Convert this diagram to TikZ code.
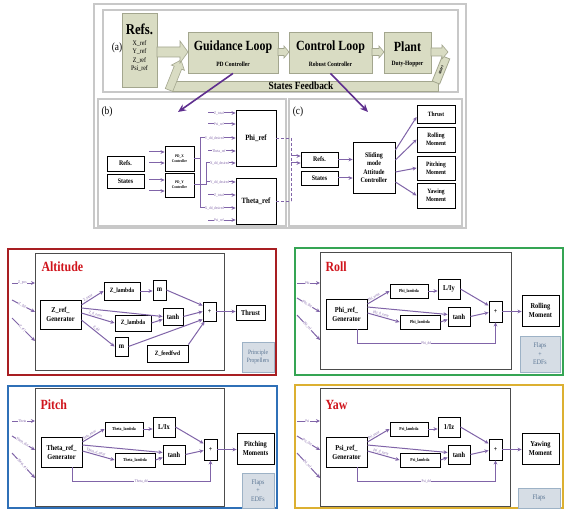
\documentclass[tikz,border=0pt]{standalone}
\usepackage{fontspec}
\setmainfont{Liberation Serif}[FakeStretch=0.85]
\usetikzlibrary{arrows.meta}
\definecolor{beige}{HTML}{D9DCC3}
\definecolor{beigeb}{HTML}{A3A68E}
\definecolor{pur}{HTML}{8064A8}
\definecolor{dpur}{HTML}{5E2E8E}
\definecolor{frc}{HTML}{C8C8C8}
\definecolor{tred}{HTML}{D0141C}
\definecolor{redf}{HTML}{A81E22}
\definecolor{greenf}{HTML}{35A554}
\definecolor{bluef}{HTML}{2F70B7}
\definecolor{goldf}{HTML}{DCB031}
\definecolor{flapf}{HTML}{D6DDE5}
\definecolor{flapd}{HTML}{9DB2C6}
\definecolor{flapt}{HTML}{5A7593}
\newcommand\myfs[1]{\fontsize{#1pt}{1.2\dimexpr #1pt\relax}\selectfont}
\tikzset{
 box/.style={draw=black, line width=0.9pt, fill=white, align=center, inner sep=0pt},
 bf/.style={font=\bfseries\myfs{#1}},
 tbox/.style={draw=beigeb, fill=beige, line width=0.8pt, align=center, inner sep=0pt},
 parr/.style={draw=pur, line width=1pt, -{Stealth[length=4pt,width=3.8pt]}},
 pline/.style={draw=pur, line width=1pt},
 bigarr/.style={draw=dpur, line width=1.6pt, -{Stealth[length=8pt,width=7pt]}},
 lab/.style={text=pur, font=\myfs{4}, inner sep=0.4pt},
 ttl/.style={anchor=west, text=tred, font=\bfseries\myfs{14}},
 inframe/.style={draw=black!70, line width=0.8pt, fill=white},
 flaps/.style={draw=flapd, fill=flapf, line width=1pt, text=flapt, font=\myfs{7}, align=center, inner sep=0pt},
}
\newcommand\mybox[7][]{\node[box,minimum width={(#5-#3)*1pt},minimum height={(#6-#4)*1pt},#1] (#2) at ({(#3+#5)/2},{(#4+#6)/2}) {#7};}
\newcommand\fatarr[6]{\draw[draw=beigeb, fill=beige, line width=0.6pt] (#1,#3-#4) -- (#2-#6,#3-#4) -- (#2-#6,#3-#5) -- (#2,#3) -- (#2-#6,#3+#5) -- (#2-#6,#3+#4) -- (#1,#3+#4) -- cycle;}
% attitude panel content: #1 dx, #2 dy, #3 var, #4 gain, #5 output, #6 prefix, #7 title
\newcommand\attpanel[7]{%
\begin{scope}[shift={(#1,#2)}]
\node[ttl] (#6ttl) at (37,27) {#7};
\coordinate (#6a1) at (12,43); \coordinate (#6b1) at (35,43);
\coordinate (#6a2) at (12,58); \coordinate (#6b2) at (35,72);
\coordinate (#6a3) at (12,75); \coordinate (#6b3) at (35,100);
\draw[parr] (#6a1) -- node[lab,fill=white,pos=0.45]{#3} (#6b1);
\draw[parr] (#6a2) -- node[lab,fill=white,sloped,pos=0.45]{#3\_dot} (#6b2);
\draw[parr] (#6a3) -- node[lab,fill=white,sloped,pos=0.45]{#3\_ref} (#6b3);
\mybox[bf=7.5]{#6gen}{41}{59}{82}{89}{#3\_ref\_\\Generator}
\mybox[bf=4.5]{#6lam1}{105}{44}{143}{58}{#3\_lambda}
\mybox[bf=7.5]{#6gain}{153}{39}{175}{59}{#4}
\mybox[bf=7.5]{#6tanh}{163}{67}{185}{86}{tanh}
\mybox[bf=4.5]{#6lam2}{115}{75}{155}{89}{#3\_lambda}
\mybox[bf=7]{#6plus}{204}{61}{217}{82}{+}
\mybox[bf=7.5]{#6out}{237}{55}{274}{86}{#5}
\draw[parr] ([yshift=10pt]#6gen.east) -- node[lab,above,sloped,pos=0.35]{#3\_error} (#6lam1.west);
\draw[parr] (#6lam1.east) -- (#6lam1.east -| #6gain.west);
\draw[parr] (#6gain.east) -- ([yshift=6pt]#6plus.west);
\draw[parr] ([yshift=7pt]#6gen.east) -- ([yshift=2pt]#6tanh.west);
\draw[parr] ([yshift=1pt]#6gen.east) -- node[lab,above,sloped,pos=0.4]{#3\_d\_error} (#6lam2.west);
\draw[parr] (#6lam2.east) -- ([yshift=-3pt]#6tanh.west);
\draw[parr] (#6tanh.east) -- ([yshift=-1pt]#6plus.west);
\draw[parr] (#6plus.east) -- (#6plus.east -| #6out.west);
\draw[parr] ([xshift=10.5pt]#6gen.south) -- ++(0,14) -| node[lab,fill=white,pos=0.25]{#3\_dd} (#6plus.south);
\end{scope}}
\begin{document}
\begin{tikzpicture}[x=1pt,y=-1pt]
\useasboundingbox (0,0) rectangle (568,516);
\fill[white] (0,0) rectangle (568,516);
% ---------- top frames
\draw[frc, line width=1.4pt] (94,4) rectangle (466,228);
\draw[frc, line width=1.2pt, fill=white] (103,10) rectangle (458,92);
\draw[frc, line width=1.2pt] (98,99) rectangle (286,226);
\draw[frc, line width=1.2pt] (289,99) rectangle (462,226);
% ---------- (a)
\node[font=\myfs{11}] (la) at (117,48) {(a)};
\node[tbox, minimum width=266pt, minimum height=10pt] (fb) at (305,86) {};
\draw[draw=beigeb, fill=beige, line width=0.6pt] (165.3,88.5) -- (174.2,66.2) -- (171.4,65.1) -- (181,60) -- (184.4,70.3) -- (181.6,69.2) -- (172.7,91.5) -- cycle;
\node[tbox, rotate=68, minimum width=27pt, minimum height=8pt, font=\bfseries\itshape\myfs{4.5}] (stt) at (441,70) {states};
\node[font=\bfseries\myfs{11}] (fbt) at (301,86) {States Feedback};
\node[tbox, minimum width=35pt, minimum height=74pt] (refsa) at (139.5,50) {};
\node[font=\bfseries\myfs{15}] (refsat) at (139.5,29) {Refs.};
\node[font=\myfs{7}, align=center] (refsal) at (139.5,56) {X\_ref\\Y\_ref\\Z\_ref\\Psi\_ref};
\node[tbox, minimum width=90pt, minimum height=41pt] (guid) at (233,52.5) {};
\node[font=\bfseries\myfs{14}] (guidt) at (233,47) {Guidance Loop};
\node[font=\bfseries\myfs{6.5}] (guids) at (233,64) {PD Controller};
\node[tbox, minimum width=83pt, minimum height=41pt] (ctrl) at (330.5,52.5) {};
\node[font=\bfseries\myfs{14}] (ctrlt) at (330.5,47) {Control Loop};
\node[font=\bfseries\myfs{6.5}] (ctrls) at (330.5,64) {Robust Controller};
\node[tbox, minimum width=47pt, minimum height=41pt] (plant) at (407.5,52.5) {};
\node[font=\bfseries\myfs{14}] (plantt) at (407.5,47) {Plant};
\node[font=\bfseries\myfs{6.5}] (plants) at (407.5,64) {Duty-Hopper};
\fatarr{157}{188}{52}{5}{11}{8}
\fatarr{278}{289}{52}{3.5}{6}{5}
\fatarr{372}{384}{52}{3.5}{6}{5}
\fatarr{431}{448}{52}{4}{7}{6}
% ---------- (b)
\node[font=\myfs{11}] (lb) at (107,112) {(b)};
\mybox[bf=7]{brefs}{107}{156}{144}{171}{Refs.}
\mybox[bf=7]{bstates}{107}{174}{144}{188}{States}
\mybox[bf=4]{pdx}{165}{146}{194}{171}{PD\_X\\Controller}
\mybox[bf=4]{pdy}{165}{173}{194}{197}{PD\_Y\\Controller}
\mybox[bf=8]{phir}{236}{110}{276}{166}{Phi\_ref}
\mybox[bf=8]{thr}{236}{178}{276}{224}{Theta\_ref}
\foreach \yy in {152,163} \draw[parr] (149,\yy) -- (pdx.west |- 0,\yy);
\foreach \yy in {180,191} \draw[parr] (149,\yy) -- (pdy.west |- 0,\yy);
\draw[pline] (pdx.east) -- ++(6,0) coordinate (v1);
\draw[pline] (v1 |- 0,138) -- (v1 |- 0,208);
\draw[pline] (pdy.east) -- ++(12,0) coordinate (v2);
\draw[pline] (v2 |- 0,163) -- (v2 |- 0,185);
\draw[parr] (208,113) -- node[lab,fill=white,pos=0.4]{Z\_total} (phir.west |- 0,113);
\draw[parr] (208,124) -- node[lab,fill=white,pos=0.4]{Psi\_ref} (phir.west |- 0,124);
\draw[parr] (v1 |- 0,138) -- node[lab,fill=white,pos=0.4]{Y\_dd\_desired} (phir.west |- 0,138);
\draw[parr] (208,151) -- node[lab,fill=white,pos=0.4]{Theta\_ref} (phir.west |- 0,151);
\draw[parr] (v2 |- 0,163) -- node[lab,fill=white,pos=0.45]{X\_dd\_desired} (phir.west |- 0,163);
\draw[parr] (v2 |- 0,182) -- node[lab,fill=white,pos=0.45]{Y\_dd\_desired} (thr.west |- 0,182);
\draw[parr] (208,195) -- node[lab,fill=white,pos=0.4]{Z\_total} (thr.west |- 0,195);
\draw[parr] (v1 |- 0,208) -- node[lab,fill=white,pos=0.4]{X\_dd\_desired} (thr.west |- 0,208);
\draw[parr] (208,220) -- node[lab,fill=white,pos=0.4]{Psi\_ref} (thr.west |- 0,220);
% ---------- (c)
\node[font=\myfs{11}] (lc) at (298,112) {(c)};
\mybox[bf=7]{crefs}{301}{152}{338}{167}{Refs.}
\mybox[bf=7]{cstates}{301}{171}{338}{185}{States}
\mybox[bf=7]{slid}{353}{142}{395}{193}{Sliding\\mode\\Attitude\\Controller}
\mybox[bf=6.5]{cthr}{417}{105}{455}{123}{Thrust}
\mybox[bf=6.5]{croll}{417}{127}{455}{152}{Rolling\\Moment}
\mybox[bf=6.5]{cpitch}{417}{156}{455}{180}{Pitching\\Moment}
\mybox[bf=6.5]{cyaw}{417}{183}{455}{208}{Yawing\\Moment}
\draw[pur, line width=0.9pt, densely dashed] (phir.east) -- ++(15,0) coordinate (d1);
\draw[pur, line width=0.9pt, densely dashed] (thr.east) -- ++(15,0) coordinate (d2);
\draw[pur, line width=0.9pt, densely dashed] (d1) -- (d2);
\draw[parr] (d1 |- 0,156) -- (crefs.west |- 0,156);
\draw[parr] (d1 |- 0,163) -- (crefs.west |- 0,163);
\draw[parr] (crefs.east) -- (crefs.east -| slid.west);
\draw[parr] (cstates.east) -- (cstates.east -| slid.west);
\draw[parr] ([yshift=17.5pt]slid.east) -- ([yshift=-3pt]cthr.west);
\draw[parr] ([yshift=7.5pt]slid.east) -- (croll.west);
\draw[parr] ([yshift=-4.5pt]slid.east) -- (cpitch.west);
\draw[parr] ([yshift=-14.5pt]slid.east) -- (cyaw.west);
% big arrows
\coordinate (bt) at (178,112);
\coordinate (ct) at (368,112);
\draw[bigarr] (guid.south) -- (bt);
\draw[bigarr] (ctrl.south) -- (ct);
% ---------- Altitude
\draw[redf, line width=2.4pt] (8,249) rectangle (276,375);
\draw[inframe] (35,253) rectangle (224,370);
\begin{scope}[shift={(0,240)}]
\node[ttl] (attl) at (38,27) {Altitude};
\coordinate (aa1) at (12,43); \coordinate (ab1) at (35,43);
\coordinate (aa2) at (12,60); \coordinate (ab2) at (35,72);
\coordinate (aa3) at (12,78); \coordinate (ab3) at (35,101);
\draw[parr] (aa1) -- node[lab,fill=white,pos=0.45]{Z\_pos} (ab1);
\draw[parr] (aa2) -- node[lab,fill=white,sloped,pos=0.45]{Z\_dot} (ab2);
\draw[parr] (aa3) -- node[lab,fill=white,sloped,pos=0.45]{Z\_ref} (ab3);
\mybox[bf=7.5]{agen}{40}{60}{81}{89}{Z\_ref\_\\Generator}
\mybox[bf=6.5]{alam1}{104}{42}{140}{60}{Z\_lambda}
\mybox[bf=7.5]{am1}{153}{40}{166}{60}{m}
\mybox[bf=7.5]{atanh}{163}{68}{183}{85}{tanh}
\mybox[bf=6.5]{alam2}{115}{75}{151}{91}{Z\_lambda}
\mybox[bf=7.5]{am2}{115}{97}{128}{116}{m}
\mybox[bf=6.5]{aff}{147}{105}{188}{122}{Z\_feedfwd}
\mybox[bf=7]{aplus}{203}{62}{216}{81}{+}
\mybox[bf=7.5]{athr}{236}{65}{265}{80}{Thrust}
\draw[parr] ([yshift=9.5pt]agen.east) -- node[lab,above,sloped,pos=0.35]{Z\_error} (alam1.west);
\draw[parr] (alam1.east) -- (alam1.east -| am1.west);
\draw[parr] (am1.east) -- ([yshift=6pt]aplus.west);
\draw[parr] ([yshift=6.5pt]agen.east) -- (atanh.west);
\draw[parr] ([yshift=1.5pt]agen.east) -- node[lab,above,sloped,pos=0.4]{Z\_d\_error} (alam2.west);
\draw[parr] (alam2.east) -- ([yshift=-3pt]atanh.west);
\draw[parr] (atanh.east) -- (aplus.west);
\draw[parr] ([yshift=-5.5pt]agen.east) -- node[lab,above,sloped,pos=0.4]{Z\_dd} (am2.west);
\draw[parr] (am2.east) -- ([yshift=2pt]aplus.south west);
\draw[parr] (aff.north east) -- ([xshift=2pt]aplus.south west);
\draw[parr] (aplus.east) -- (aplus.east -| athr.west);
\end{scope}
\node[flaps, font=\myfs{6.5}, minimum width=32pt, minimum height=30pt] (aprop) at (258,357) {Principle\\Propellers};
% ---------- Roll
\draw[greenf, line width=2.4pt] (295,248) rectangle (563,375);
\draw[inframe] (320,252) rectangle (511,369);
\attpanel{285}{240}{Phi}{L/Iy}{Rolling\\Moment}{r}{Roll}
\node[flaps, minimum width=40pt, minimum height=36pt] (rfl) at (540,354) {Flaps\\+\\EDFs};
% ---------- Pitch
\draw[bluef, line width=2.4pt] (8,386) rectangle (277,508);
\draw[inframe] (35,388) rectangle (224,506);
\attpanel{0}{378}{Theta}{L/Ix}{Pitching\\Moments}{p}{Pitch}
\node[flaps, minimum width=32pt, minimum height=35pt] (pfl) at (258,490.5) {Flaps\\+\\EDFs};
% ---------- Yaw
\draw[goldf, line width=2.4pt] (295,385) rectangle (563,508);
\draw[inframe] (320,388) rectangle (510,506);
\attpanel{285}{378}{Psi}{1/Iz}{Yawing\\Moment}{y}{Yaw}
\node[flaps, minimum width=42pt, minimum height=20pt] (yfl) at (539,498) {Flaps};
\end{tikzpicture}
\end{document}
